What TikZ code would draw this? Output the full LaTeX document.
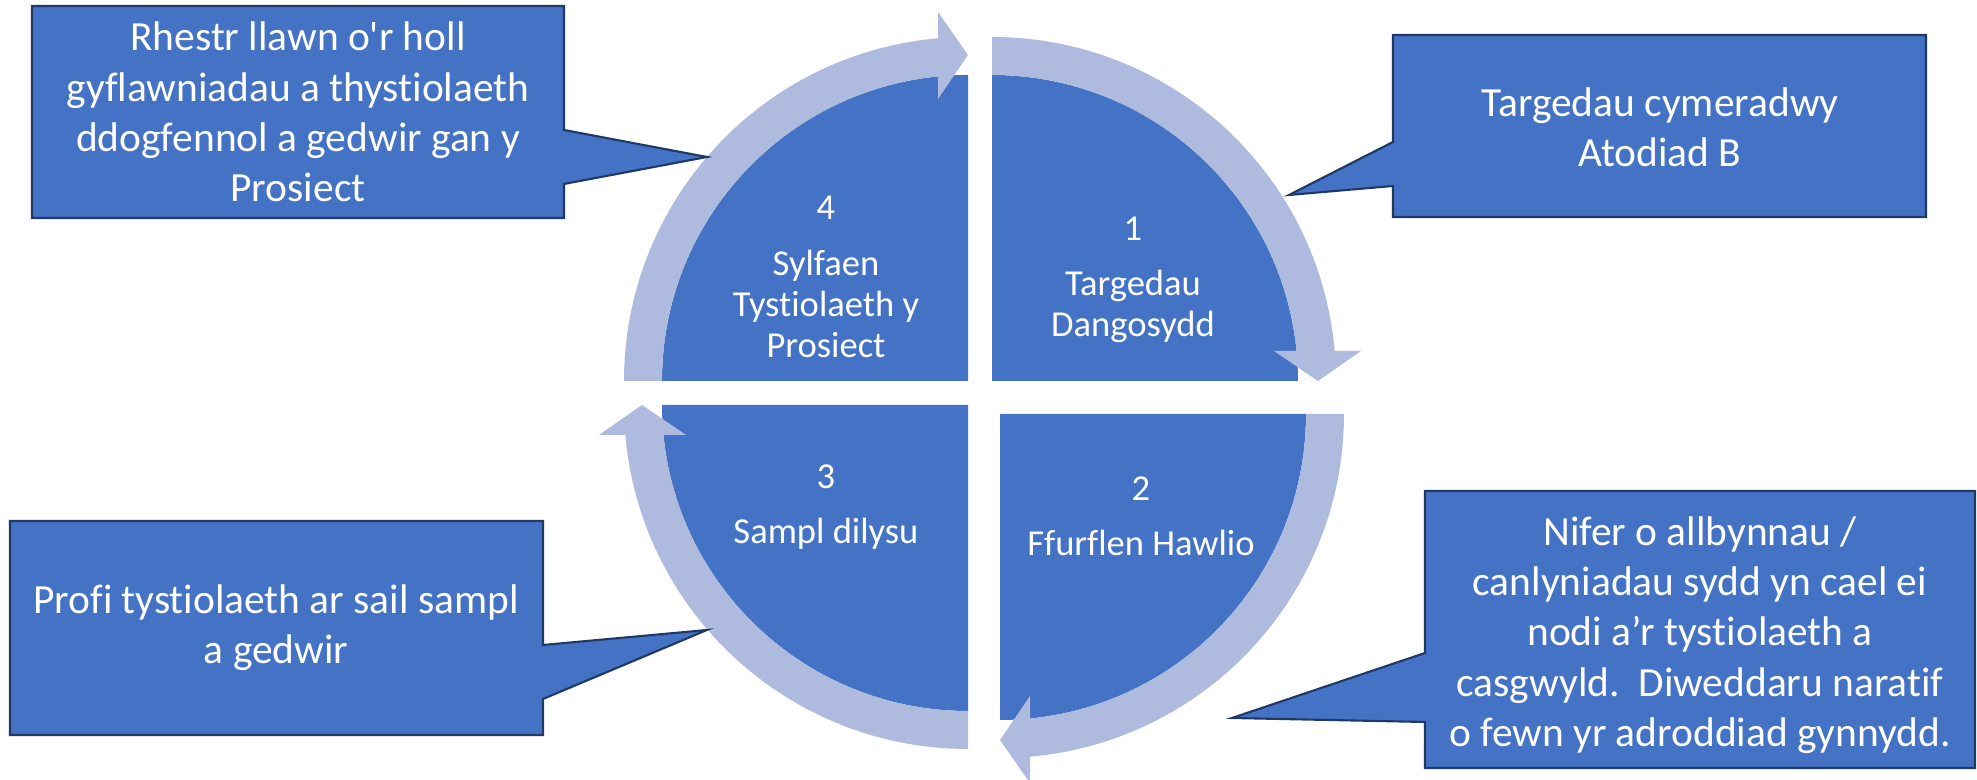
\documentclass[tikz,border=0pt]{standalone}
\usepackage{fontspec}
\setmainfont{Carlito}[Ligatures={NoCommon}]

\definecolor{segblue}{RGB}{68,114,196}
\definecolor{ringblue}{RGB}{174,187,222}
\definecolor{noteline}{RGB}{31,56,100}

% one quarter of the cycle (top right), with its ring and arrow head
\newcommand{\cyclequarter}{%
  \fill[seg] (0,0) -- (-90:306) arc (-90:0:306) -- cycle;
  \fill[ring] (-90:344) arc (-90:-5:344) -- (-5.6:306) arc (-5.6:-90:306) -- cycle;
  \fill[ring] (282,-30) -- (369,-30) -- (326,0) -- cycle;}

\begin{document}
\begin{tikzpicture}[x=0.1mm, y=-0.1mm,
    seg/.style={fill=segblue},
    ring/.style={fill=ringblue},
    note/.style={fill=segblue, draw=noteline, line width=0.6pt, line join=miter},
    segtext/.style={text=white, align=center, font=\fontsize{10.4}{11.7}\selectfont},
    notetext/.style={text=white, align=center, font=\fontsize{11.8}{14.3}\selectfont}]

\useasboundingbox (0,0) rectangle (1977,780);

\begin{scope}[shift={(992,381)}] \cyclequarter \end{scope}
\begin{scope}[shift={(1000,414)}, rotate=-90] \cyclequarter \end{scope}
\begin{scope}[shift={(968,405)}, rotate=180] \cyclequarter \end{scope}
\begin{scope}[shift={(968,381)}, rotate=90] \cyclequarter \end{scope}

\node[segtext] (q1) at (1133,280) {1\\[4pt]Targedau\\Dangosydd};
\node[segtext] (q2) at (1141,516) {2\\[4pt]Ffurflen Hawlio};
\node[segtext] (q3) at (826,507) {3\\[4pt]Sampl dilysu};
\node[segtext] (q4) at (826,277) {4\\[4pt]Sylfaen\\Tystiolaeth y\\Prosiect};

% callouts
\draw[note] (1393,35) -- (1926,35) -- (1926,217) -- (1393,217) -- (1393,186)
  -- (1289,195) -- (1393,142) -- cycle;
\node[notetext] (n1) at (1660,127) {Targedau cymeradwy\\Atodiad B};

\draw[note] (1425,491) -- (1975,491) -- (1975,768) -- (1425,768) -- (1425,722)
  -- (1232,718) -- (1425,653) -- cycle;
\node[notetext] (n2) at (1700,635) {Nifer o allbynnau /\\canlyniadau sydd yn cael ei\\nodi a’r tystiolaeth a\\casgwyld.\ \ Diweddaru naratif\\o fewn yr adroddiad gynnydd.};

\draw[note] (10,521) -- (543,521) -- (543,645) -- (707,630) -- (543,699)
  -- (543,735) -- (10,735) -- cycle;
\node[notetext] (n3) at (276,628) {Profi tystiolaeth ar sail sampl\\a gedwir};

\draw[note] (32,6) -- (564,6) -- (564,130) -- (707,157) -- (564,184)
  -- (564,218) -- (32,218) -- cycle;
\node[notetext] (n4) at (298,112) {Rhestr llawn o\textquotesingle r holl\\gyflawniadau a thystiolaeth\\ddogfennol a gedwir gan y\\Prosiect};

\end{tikzpicture}
\end{document}
